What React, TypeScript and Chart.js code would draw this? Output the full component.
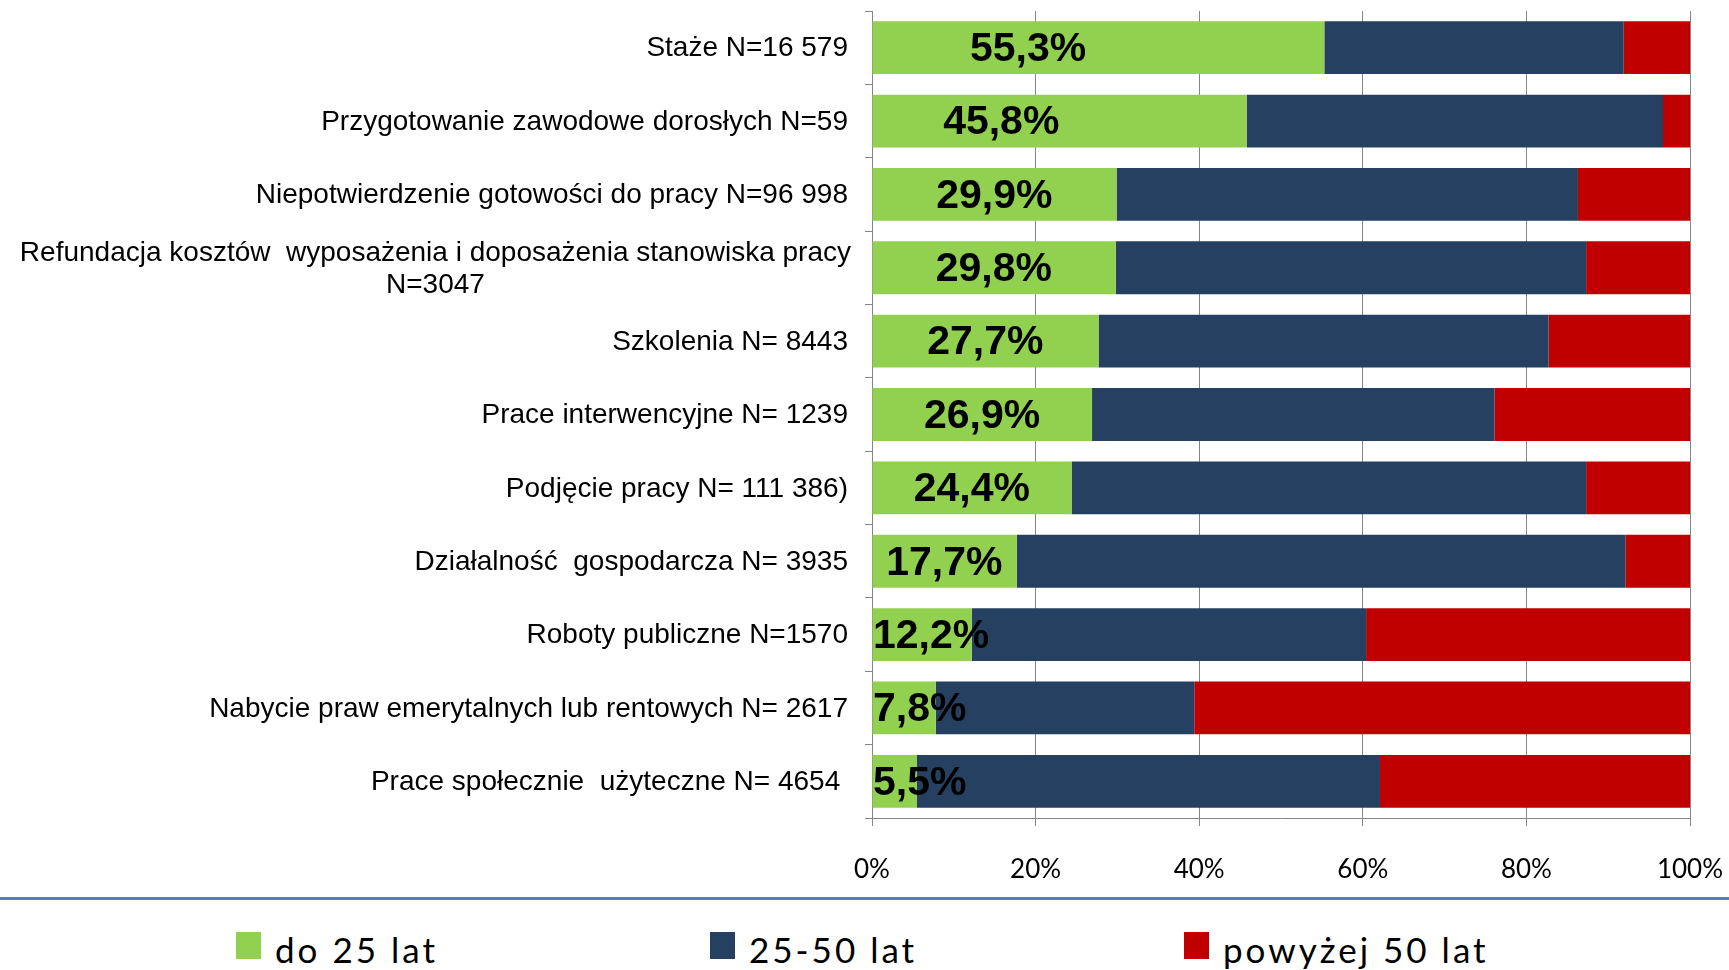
import React, { useEffect, useRef } from 'react';
import { Chart, registerables } from 'chart.js';

Chart.register(...registerables);

const categories: (string | string[])[] = [
  'Staże N=16 579',
  'Przygotowanie zawodowe dorosłych N=59',
  'Niepotwierdzenie gotowości do pracy N=96 998',
  ['Refundacja kosztów  wyposażenia i doposażenia stanowiska pracy', 'N=3047'],
  'Szkolenia N= 8443',
  'Prace interwencyjne N= 1239',
  'Podjęcie pracy N= 111 386)',
  'Działalność  gospodarcza N= 3935',
  'Roboty publiczne N=1570',
  'Nabycie praw emerytalnych lub rentowych N= 2617',
  'Prace społecznie  użyteczne N= 4654 ',
];

const seriesNames = ['do 25 lat', '25-50 lat', 'powyżej 50 lat'];
const seriesColors = ['#92D050', '#254061', '#C00000'];

const under25 = [55.3, 45.8, 29.9, 29.8, 27.7, 26.9, 24.4, 17.7, 12.2, 7.8, 5.5];
const from25to50 = [36.6, 50.9, 56.4, 57.5, 55.0, 49.2, 62.9, 74.4, 48.2, 31.6, 56.6];
const over50 = [8.1, 3.3, 13.7, 12.7, 17.3, 23.9, 12.7, 7.9, 39.6, 60.6, 37.9];

const xTicks = [0, 20, 40, 60, 80, 100];

const GRID = '#868686';

const labelPlugin = {
  id: 'customLabels',
  afterDatasetsDraw(chart: any) {
    const ctx = chart.ctx as CanvasRenderingContext2D;
    const ys = chart.scales.y;
    const xs = chart.scales.x;
    const area = chart.chartArea;
    ctx.save();
    // category labels
    ctx.font = '28px "Liberation Sans", Arial, sans-serif';
    ctx.fillStyle = '#000';
    ctx.textBaseline = 'middle';
    const right = area.left - 24;
    categories.forEach((lab, i) => {
      const cy = ys.getPixelForValue(i) + 1;
      if (Array.isArray(lab)) {
        const r = right + 3;
        const w = ctx.measureText(lab[0]).width;
        ctx.textAlign = 'right';
        ctx.fillText(lab[0], r, cy - 15);
        ctx.textAlign = 'center';
        ctx.fillText(lab[1], r - w / 2, cy + 17);
      } else {
        ctx.textAlign = 'right';
        ctx.fillText(lab, right, cy);
      }
    });
    // value labels for first series
    ctx.font = 'bold 41px "Liberation Sans", Arial, sans-serif';
    ctx.textAlign = 'center';
    under25.forEach((v, i) => {
      const txt = v.toFixed(1).replace('.', ',') + '%';
      const w = ctx.measureText(txt).width;
      const c = v > 40 ? v * 0.345 : v / 2;
      let cx = xs.getPixelForValue(c);
      cx = Math.max(cx, area.left + 1 + w / 2);
      const cy = ys.getPixelForValue(i) + 2;
      ctx.fillText(txt, cx, cy);
    });
    ctx.restore();
  },
};

export default function App() {
  const ref = useRef<HTMLCanvasElement | null>(null);

  useEffect(() => {
    if (!ref.current) return;
    const chart = new Chart(ref.current, {
      type: 'bar',
      data: {
        labels: categories as any,
        datasets: [under25, from25to50, over50].map((d, i) => ({
          label: seriesNames[i],
          data: d,
          backgroundColor: seriesColors[i],
          borderWidth: 0,
          categoryPercentage: 0.72,
          barPercentage: 1,
        })),
      },
      options: {
        indexAxis: 'y',
        animation: false,
        responsive: false,
        devicePixelRatio: 1,
        layout: { padding: { left: 865, right: 39, top: 11, bottom: 0 } },
        plugins: {
          legend: { display: false },
          tooltip: { enabled: false },
        },
        scales: {
          x: {
            stacked: true,
            min: 0,
            max: 100,
            afterBuildTicks: (scale: any) => {
              scale.ticks = xTicks.map((v) => ({ value: v }));
            },
            afterFit: (scale: any) => {
              scale.height = 60;
              scale.paddingLeft = 0;
              scale.paddingRight = 0;
            },
            grid: {
              color: GRID,
              lineWidth: 1,
              tickLength: 8,
              tickColor: GRID,
            },
            border: { display: true, color: GRID, width: 1 },
            ticks: {
              padding: 28,
              color: '#000',
              font: { family: 'Lato, "Open Sans", sans-serif', size: 26 },
              callback: (v: any) => v + '%',
              maxRotation: 0,
            },
          },
          y: {
            stacked: true,
            afterFit: (scale: any) => {
              scale.width = 7;
              scale.paddingTop = 0;
              scale.paddingBottom = 0;
            },
            grid: {
              drawOnChartArea: false,
              tickLength: 7,
              tickColor: GRID,
              offset: true,
            },
            border: { display: true, color: GRID, width: 1 },
            ticks: { display: false },
          },
        },
      },
      plugins: [labelPlugin],
    });
    return () => chart.destroy();
  }, []);

  return (
    <div
      style={{
        position: 'fixed',
        left: 0,
        top: 0,
        width: 1729,
        height: 970,
        background: '#fff',
        overflow: 'hidden',
      }}
    >
      <canvas ref={ref} width={1729} height={878} style={{ position: 'absolute', left: 0, top: 0 }} />
      <div
        style={{
          position: 'absolute',
          left: 0,
          top: 897,
          width: 1729,
          height: 3,
          background: '#4F81BD',
        }}
      />
      {seriesNames.map((name, i) => (
        <div
          key={name}
          style={{
            position: 'absolute',
            left: 236 + i * 474,
            top: 928,
            height: 42,
            display: 'flex',
            alignItems: 'flex-start',
            whiteSpace: 'nowrap',
          }}
        >
          <div
            style={{
              width: 25,
              height: 27,
              marginTop: 4,
              background: seriesColors[i],
            }}
          />
          <span
            style={{
              marginLeft: 14,
              fontFamily: 'Lato, "Open Sans", sans-serif',
              fontSize: 35,
              lineHeight: '42px',
              letterSpacing: 3,
              color: '#000',
            }}
          >
            {name}
          </span>
        </div>
      ))}
    </div>
  );
}
